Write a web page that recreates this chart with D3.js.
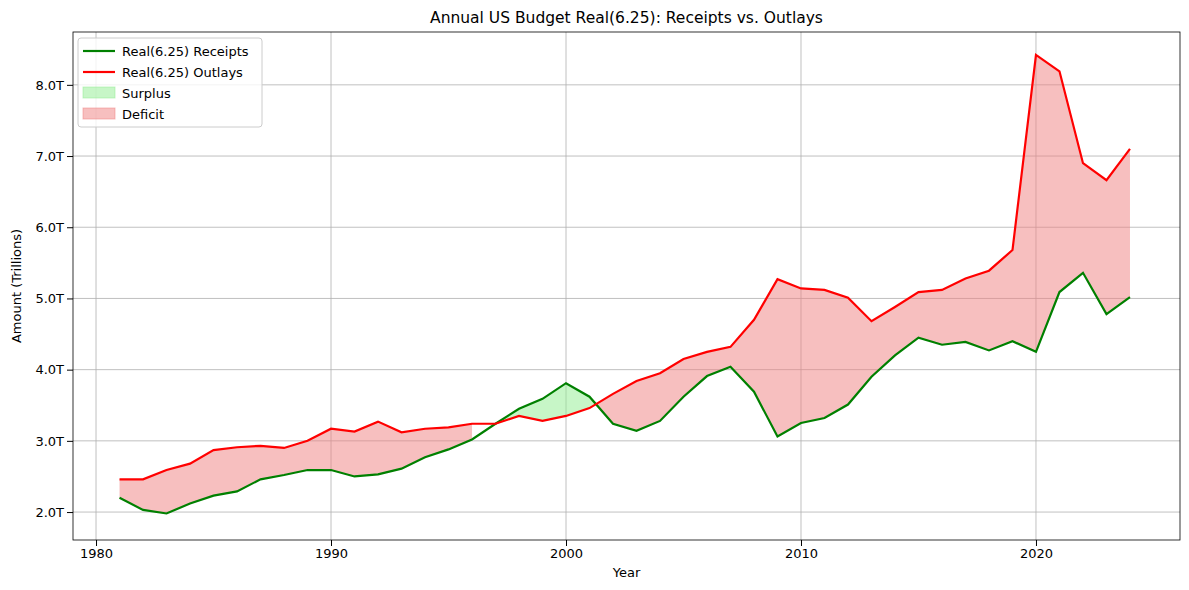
<!DOCTYPE html>
<html><head><meta charset="utf-8">
<script src="https://cdn.jsdelivr.net/npm/d3@7"></script>
<style>body{margin:0;background:#fff;font-family:"DejaVu Sans",sans-serif}</style>
</head><body>
<script>
// Data (trillions)
var years = d3.range(1981, 2025);
var receipts = [2.20,2.03,1.98,2.12,2.23,2.29,2.46,2.52,2.59,2.59,2.50,2.53,2.61,2.77,2.88,3.02,3.24,3.45,3.59,3.81,
  3.62,3.24,3.14,3.28,3.62,3.91,4.04,3.69,3.06,3.25,3.32,3.51,3.90,4.20,4.45,4.35,4.39,4.27,4.40,4.25,5.09,5.36,4.78,5.02];
var outlays = [2.46,2.46,2.59,2.68,2.87,2.91,2.93,2.90,3.00,3.17,3.13,3.27,3.12,3.17,3.19,3.24,3.24,3.35,3.28,3.35,
  3.46,3.66,3.84,3.95,4.15,4.25,4.32,4.70,5.27,5.14,5.12,5.01,4.68,4.88,5.09,5.12,5.28,5.39,5.68,8.42,8.19,6.90,6.66,7.10];
var xTicks = [1980,1990,2000,2010,2020];
var yTicks = [2,3,4,5,6,7,8];

var svg = d3.select("body").append("svg").attr("width",1189).attr("height",590);
var pL = 73, pR = 1180, pT = 32, pB = 540;

var x = d3.scaleLinear().domain([1978.85, 2026.15]).range([69, 1180.5]);
var y = d3.scaleLinear().domain([1.658, 8.742]).range([536.4, 32]);

var data = years.map((yr,i) => ({yr:yr, r:receipts[i], o:outlays[i]}));

// grid
var g = svg.append("g");
xTicks.forEach(t => g.append("line").attr("x1",x(t)).attr("x2",x(t)).attr("y1",pT).attr("y2",pB).attr("stroke","#b0b0b0").attr("stroke-width",0.8));
yTicks.forEach(t => g.append("line").attr("x1",pL).attr("x2",pR).attr("y1",y(t)).attr("y2",y(t)).attr("stroke","#b0b0b0").attr("stroke-width",0.8));

// split into runs of surplus / deficit, interpolating crossings
var runs = [], cur = null;
function push(pt, surplus) {
  if (!cur || cur.s !== surplus) { cur = {s:surplus, pts:[]}; runs.push(cur); }
  cur.pts.push(pt);
}
for (var i = 0; i < data.length-1; i++) {
  var a = data[i], b = data[i+1];
  var da = a.r - a.o, db = b.r - b.o;
  if (da*db < 0) {
    var t = da/(da-db);
    var m = {yr:a.yr+t, r:a.r+t*(b.r-a.r), o:a.r+t*(b.r-a.r)};
    push(a, da>0); push(m, da>0);
    push(m, db>0);
  } else {
    var s = (da+db) > 0;
    push(a, s);
  }
}
push(data[data.length-1], cur.s);
var area = d3.area().x(d => x(d.yr)).y0(d => y(d.o)).y1(d => y(d.r));
runs.forEach(rn => {
  svg.append("path").attr("d", area(rn.pts))
    .attr("fill", rn.s ? "rgba(144,238,144,0.5)" : "rgba(240,128,128,0.5)");
});

var line = key => d3.line().x(d => x(d.yr)).y(d => y(d[key]));
svg.append("path").datum(data).attr("d", line("r")).attr("fill","none").attr("stroke","green").attr("stroke-width",2.2);
svg.append("path").datum(data).attr("d", line("o")).attr("fill","none").attr("stroke","red").attr("stroke-width",2.2);

// frame
svg.append("rect").attr("x",pL).attr("y",pT).attr("width",pR-pL).attr("height",pB-pT).attr("fill","none").attr("stroke","#000").attr("stroke-width",0.8);

// axes
svg.append("g").attr("transform",`translate(0,${pB})`)
  .call(d3.axisBottom(x).tickValues(xTicks).tickFormat(d3.format("d")).tickSizeOuter(0))
  .call(s => s.select(".domain").remove())
  .selectAll("text").attr("font-size",13).attr("font-family","DejaVu Sans").attr("fill","#000");
svg.append("g").attr("transform",`translate(${pL},0)`)
  .call(d3.axisLeft(y).tickValues(yTicks).tickFormat(d => d.toFixed(1)+"T").tickSizeOuter(0))
  .call(s => s.select(".domain").remove())
  .selectAll("text").attr("font-size",13).attr("font-family","DejaVu Sans").attr("fill","#000");

svg.append("text").attr("x",(pL+pR)/2).attr("y",23).attr("text-anchor","middle").attr("font-size",15.5).text("Annual US Budget Real(6.25): Receipts vs. Outlays");
svg.append("text").attr("x",(pL+pR)/2).attr("y",577).attr("text-anchor","middle").attr("font-size",13).text("Year");
svg.append("text").attr("transform",`translate(21,${(pT+pB)/2}) rotate(-90)`).attr("text-anchor","middle").attr("font-size",13).text("Amount (Trillions)");

// legend
var lg = svg.append("g").attr("transform","translate(78,38)");
lg.append("rect").attr("width",184).attr("height",89).attr("rx",3).attr("fill","#fff").attr("fill-opacity",0.8).attr("stroke","#ccc");
var items = [["line","green","Real(6.25) Receipts"],["line","red","Real(6.25) Outlays"],["patch","rgba(144,238,144,0.5)","Surplus"],["patch","rgba(240,128,128,0.5)","Deficit"]];
items.forEach((it,i) => {
  var yy = 13 + i*21;
  if (it[0]=="line") lg.append("line").attr("x1",5).attr("x2",37).attr("y1",yy).attr("y2",yy).attr("stroke",it[1]).attr("stroke-width",2.2);
  else lg.append("rect").attr("x",5).attr("y",yy-6).attr("width",32).attr("height",11).attr("fill",it[1]).attr("stroke",it[1]);
  lg.append("text").attr("x",44).attr("y",yy+4.5).attr("font-size",13).text(it[2]);
});
</script>
</body></html>
